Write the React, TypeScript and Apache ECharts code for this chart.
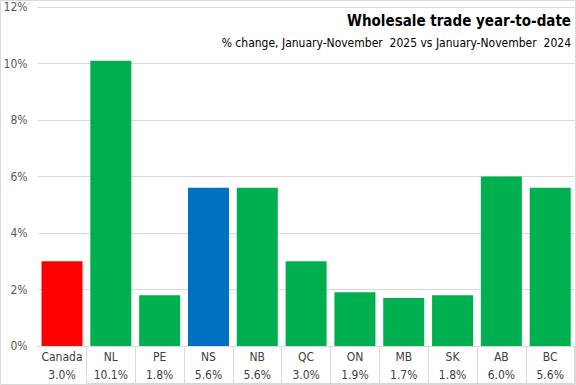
import React, { useEffect, useRef } from "react";
import * as echarts from "echarts";

const categories = ["Canada", "NL", "PE", "NS", "NB", "QC", "ON", "MB", "SK", "AB", "BC"];
const values = [3.0, 10.1, 1.8, 5.6, 5.6, 3.0, 1.9, 1.7, 1.8, 6.0, 5.6];
const barColors = ["#ff0000", "#00b050", "#00b050", "#0070c0", "#00b050", "#00b050", "#00b050", "#00b050", "#00b050", "#00b050", "#00b050"];
const yTicks = { min: 0, max: 12, interval: 2 };
const titleText = "Wholesale trade year-to-date";
const subtitleText = "% change, January-November  2025 vs January-November  2024";

const FONT = "'Liberation Sans Narrow', 'DejaVu Sans Condensed', sans-serif";

export default function App() {
  const ref = useRef<HTMLDivElement>(null);
  useEffect(() => {
    if (!ref.current) return;
    const chart = echarts.init(ref.current, undefined, { renderer: "svg" });
    const left = 37.6;
    const right = 574.6;
    const catW = (right - left) / categories.length;
    chart.setOption({
      animation: false,
      backgroundColor: "#ffffff",
      textStyle: { fontFamily: FONT },
      title: [
        {
          text: titleText,
          right: 0,
          top: 8,
          textStyle: { fontFamily: FONT, fontWeight: "bold", fontSize: 15, color: "#000000" },
        },
        {
          text: subtitleText,
          right: 0,
          top: 32,
          textStyle: { fontFamily: FONT, fontWeight: "normal", fontSize: 12, color: "#000000" },
        },
      ],
      grid: { left: left, right: 576 - right, top: 7, bottom: 39, containLabel: false },
      xAxis: {
        type: "category",
        data: categories,
        axisLine: { show: true, lineStyle: { color: "#d9d9d9", width: 1 } },
        axisTick: {
          show: true,
          length: 37,
          alignWithLabel: false,
          interval: (i: number) => i > 0,
          lineStyle: { color: "#d9d9d9" },
        },
        axisLabel: {
          interval: 0,
          margin: 2,
          formatter: (v: string, i: number) => `{a|${v}}\n{b|${values[i].toFixed(1)}%}`,
          rich: {
            a: { fontFamily: FONT, fontSize: 12, color: "#404040", lineHeight: 18 },
            b: { fontFamily: FONT, fontSize: 12, color: "#404040", lineHeight: 18 },
          },
        },
      },
      yAxis: {
        type: "value",
        min: yTicks.min,
        max: yTicks.max,
        interval: yTicks.interval,
        axisLine: { show: false },
        axisTick: { show: false },
        splitLine: { lineStyle: { color: "#d9d9d9", width: 1 } },
        axisLabel: {
          formatter: "{value}%",
          margin: 10,
          fontFamily: FONT,
          fontSize: 12,
          color: "#595959",
        },
      },
      series: [
        {
          type: "bar",
          data: values.map((v, i) => ({ value: v, itemStyle: { color: barColors[i] } })),
          barCategoryGap: "16%",
        },
      ],
      graphic: [
        {
          type: "line",
          shape: { x1: left + catW, y1: 383.5, x2: right, y2: 383.5 },
          style: { stroke: "#d9d9d9", lineWidth: 1 },
        },
        {
          type: "line",
          shape: { x1: right, y1: 346, x2: right, y2: 383.5 },
          style: { stroke: "#d9d9d9", lineWidth: 1 },
        },
        {
          type: "rect",
          shape: { x: 0.5, y: 0.5, width: 575, height: 384 },
          style: { fill: "none", stroke: "#d9d9d9", lineWidth: 1 },
          silent: true,
        },
      ],
    });
    return () => chart.dispose();
  }, []);
  return (
    <div style={{ position: "fixed", left: 0, top: 0, width: 576, height: 385 }}>
      <div ref={ref} style={{ width: 576, height: 385 }} />
    </div>
  );
}
